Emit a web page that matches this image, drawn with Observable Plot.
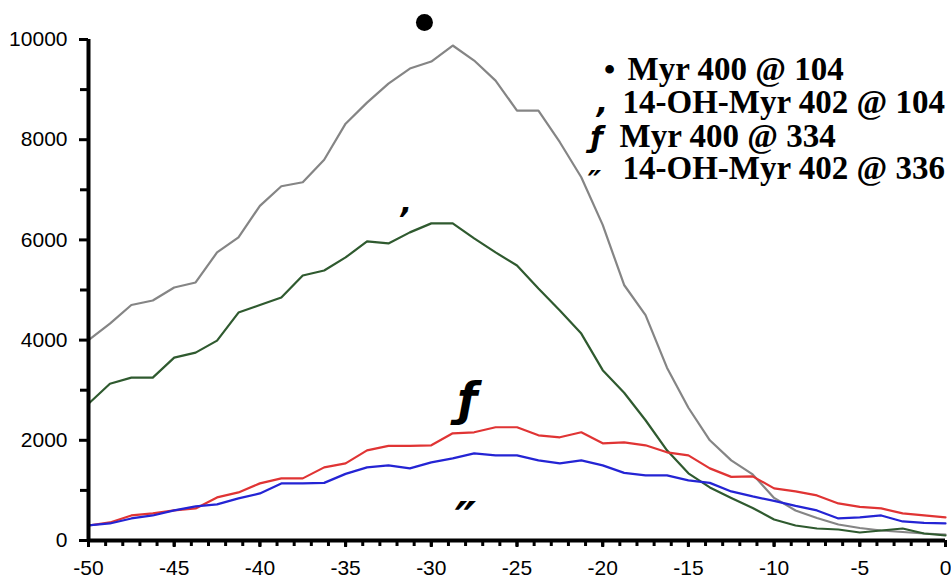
<!DOCTYPE html>
<html><head><meta charset="utf-8">
<script src="https://cdn.jsdelivr.net/npm/d3@7"></script>
<script src="https://cdn.jsdelivr.net/npm/@observablehq/plot@0.6"></script>
<style>body{margin:0;background:#fff}</style>
</head><body><div id="chart"></div>
<script>
const times = [-50,-48.75,-47.5,-46.25,-45,-43.75,-42.5,-41.25,-40,-38.75,-37.5,-36.25,-35,-33.75,-32.5,-31.25,-30,-28.75,-27.5,-26.25,-25,-23.75,-22.5,-21.25,-20,-18.75,-17.5,-16.25,-15,-13.75,-12.5,-11.25,-10,-8.75,-7.5,-6.25,-5,-3.75,-2.5,-1.25,0];
const myr400_104 = [4000,4330,4700,4790,5050,5150,5750,6050,6680,7070,7150,7600,8320,8740,9120,9420,9560,9880,9580,9180,8580,8580,7950,7250,6300,5100,4500,3450,2650,2000,1600,1320,850,600,450,320,250,200,170,140,120];
const ohmyr402_104 = [2730,3130,3250,3250,3650,3750,3990,4550,4700,4850,5290,5390,5650,5970,5930,6150,6330,6330,6030,5750,5490,5030,4590,4130,3400,2950,2400,1800,1340,1060,850,650,420,300,240,220,160,200,240,140,100];
const myr400_334 = [300,360,500,540,600,640,860,960,1140,1240,1240,1460,1540,1800,1890,1890,1900,2140,2160,2260,2260,2100,2060,2160,1940,1960,1900,1760,1700,1440,1270,1280,1040,980,900,740,670,640,540,500,460];
const ohmyr402_336 = [300,340,440,500,600,680,720,840,940,1140,1140,1150,1330,1460,1500,1440,1560,1640,1740,1700,1700,1600,1540,1600,1500,1350,1300,1300,1200,1150,980,880,790,690,600,440,460,500,380,350,340];
const seriesNames = ["Myr 400 @ 104","14-OH-Myr 402 @ 104","Myr 400 @ 334","14-OH-Myr 402 @ 336"];
const seriesMarkers = ["•",",","ƒ","″"];
const seriesColors = ["#858585","#2f5a2f","#e03434","#2424d4"];
const xTicks = [-50,-45,-40,-35,-30,-25,-20,-15,-10,-5,0];
const xMinor = [-50,-49,-48,-47,-46,-45,-44,-43,-42,-41,-40,-39,-38,-37,-36,-35,-34,-33,-32,-31,-30,-29,-28,-27,-26,-25,-24,-23,-22,-21,-20,-19,-18,-17,-16,-15,-14,-13,-12,-11,-10,-9,-8,-7,-6,-5,-4,-3,-2,-1,0];
const yTicks = [0,2000,4000,6000,8000,10000];
const yMinor = [1000,3000,5000,7000,9000];
// annotation markers placed near each curve
const annX = [-30.4,-31.45,-27.9,-28.0];
const annY = [10340,6530,2790,580];

const allValues = [myr400_104, ohmyr402_104, myr400_334, ohmyr402_336];
const rows = [];
allValues.forEach((vals, s) => vals.forEach((v, i) => rows.push({t: times[i], v, series: seriesNames[s]})));

const legendDx = [539,534,531,534];
const legendDy = [40,73,107,139];
const markerDx = [521,514,508,506];
const markerDy = [40,73,107,152];
const markerFont = [
  {fontFamily:"Liberation Serif", fontWeight:"bold", fontSize:32},
  {fontFamily:"DejaVu Sans", fontWeight:"bold", fontStyle:"italic", fontSize:30},
  {fontFamily:"DejaVu Sans", fontWeight:"bold", fontStyle:"italic", fontSize:29},
  {fontFamily:"DejaVu Sans", fontWeight:"bold", fontStyle:"italic", fontSize:30}
];

const legendMarks = [];
seriesNames.forEach((name, i) => {
  legendMarks.push(Plot.text([name], {text: d => d, frameAnchor:"top-left", dx: legendDx[i], dy: legendDy[i], textAnchor:"start", lineAnchor:"bottom", fontFamily:"Liberation Serif", fontWeight:"bold", fontSize:33, fill:"#000"}));
  legendMarks.push(Plot.text([seriesMarkers[i]], {text: d => d, frameAnchor:"top-left", dx: markerDx[i], dy: markerDy[i], textAnchor:"middle", lineAnchor:"bottom", fill:"#000", ...markerFont[i]}));
});

const chart = Plot.plot({
  width: 951,
  height: 576,
  marginLeft: 88,
  marginRight: 6,
  marginTop: 39,
  marginBottom: 36,
  style: {fontFamily: "Liberation Sans", fontSize: "21px", color: "#000", background: "#fff"},
  x: {domain: [-50, 0], label: null},
  y: {domain: [0, 10000], label: null},
  color: {domain: seriesNames, range: seriesColors},
  marks: [
    Plot.line(rows, {x: "t", y: "v", z: "series", stroke: "series", strokeWidth: 2.2}),
    Plot.axisY(yMinor, {tickSize: 8, strokeWidth: 3, stroke: "#000", tickFormat: () => "", label: null}),
    Plot.axisY(yTicks, {tickSize: 9, strokeWidth: 3, stroke: "#000", tickPadding: 12, tickFormat: d => String(d), fontSize: 21, label: null}),
    Plot.axisX(xMinor, {tickSize: 6, strokeWidth: 3, stroke: "#000", tickFormat: () => "", label: null}),
    Plot.axisX(xTicks, {tickSize: 7, strokeWidth: 3, stroke: "#000", tickPadding: 13, tickFormat: d => String(d), fontSize: 21, label: null}),
    Plot.ruleX([-50], {stroke: "#000", strokeWidth: 4}),
    Plot.ruleY([0], {stroke: "#000", strokeWidth: 4}),
    Plot.dot([0], {x: () => annX[0], y: () => annY[0], r: 8.5, fill: "#000"}),
    Plot.text([seriesMarkers[1]], {x: () => annX[1], y: () => annY[1], text: d => d, fontFamily:"DejaVu Sans", fontWeight:"bold", fontStyle:"italic", fontSize:30, lineAnchor:"bottom", fill:"#000"}),
    Plot.text([seriesMarkers[2]], {x: () => annX[2], y: () => annY[2], text: d => d, fontFamily:"DejaVu Sans", fontWeight:"bold", fontStyle:"italic", fontSize:46, lineAnchor:"middle", fill:"#000"}),
    Plot.text([seriesMarkers[3]], {x: () => annX[3], y: () => annY[3], text: d => d, fontFamily:"DejaVu Sans", fontWeight:"bold", fontStyle:"italic", fontSize:48, lineAnchor:"top", dy:-10, fill:"#000"}),
    ...legendMarks
  ]
});
document.getElementById("chart").append(chart);
</script>
</body></html>
